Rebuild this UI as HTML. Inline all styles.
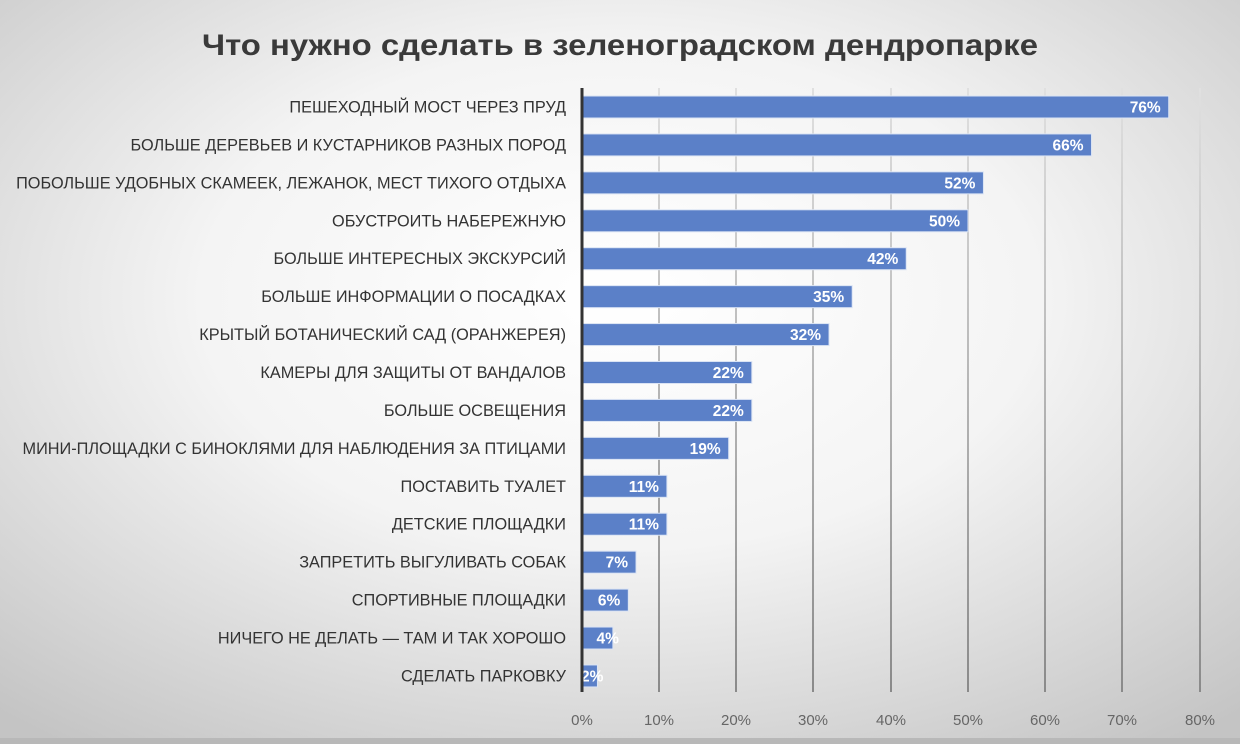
<!DOCTYPE html>
<html><head><meta charset="utf-8"><style>
html,body{margin:0;padding:0;}
body{width:1240px;height:744px;overflow:hidden;}
</style></head><body>
<svg width="1240" height="744" xmlns="http://www.w3.org/2000/svg" font-family="'Liberation Sans', sans-serif">
<defs>
<radialGradient id="bg" cx="0.5" cy="0.4" r="0.75">
<stop offset="0" stop-color="#ffffff"/>
<stop offset="0.45" stop-color="#f4f4f4"/>
<stop offset="1" stop-color="#c4c4c4"/>
</radialGradient>
<linearGradient id="gl" x1="0" y1="88" x2="0" y2="692" gradientUnits="userSpaceOnUse">
<stop offset="0" stop-color="#e0e0e0"/>
<stop offset="1" stop-color="#8a8a8a"/>
</linearGradient>
</defs>
<rect width="1240" height="744" fill="url(#bg)"/>
<rect x="0" y="738" width="1240" height="6" fill="#b8b8b8"/>
<text x="620" y="55" text-anchor="middle" font-size="30" font-weight="bold" fill="#3a3a3a" textLength="836" lengthAdjust="spacingAndGlyphs">Что нужно сделать в зеленоградском дендропарке</text>
<g stroke="url(#gl)" stroke-width="2">
<line x1="659" y1="88" x2="659" y2="692"/>
<line x1="736" y1="88" x2="736" y2="692"/>
<line x1="813" y1="88" x2="813" y2="692"/>
<line x1="891" y1="88" x2="891" y2="692"/>
<line x1="968" y1="88" x2="968" y2="692"/>
<line x1="1045" y1="88" x2="1045" y2="692"/>
<line x1="1122" y1="88" x2="1122" y2="692"/>
<line x1="1200" y1="88" x2="1200" y2="692"/>
</g>
<g font-size="15" fill="#666" text-anchor="middle">
<text x="582" y="725">0%</text><text x="659" y="725">10%</text><text x="736" y="725">20%</text><text x="813" y="725">30%</text><text x="891" y="725">40%</text><text x="968" y="725">50%</text><text x="1045" y="725">60%</text><text x="1122" y="725">70%</text><text x="1200" y="725">80%</text>
</g>
<g id="bars"></g>
<line x1="582" y1="88" x2="582" y2="692" stroke="#333" stroke-width="3"/>
</svg>
<script>
var d=[["ПЕШЕХОДНЫЙ МОСТ ЧЕРЕЗ ПРУД",76],["БОЛЬШЕ ДЕРЕВЬЕВ И КУСТАРНИКОВ РАЗНЫХ ПОРОД",66],["ПОБОЛЬШЕ УДОБНЫХ СКАМЕЕК, ЛЕЖАНОК, МЕСТ ТИХОГО ОТДЫХА",52],["ОБУСТРОИТЬ НАБЕРЕЖНУЮ",50],["БОЛЬШЕ ИНТЕРЕСНЫХ ЭКСКУРСИЙ",42],["БОЛЬШЕ ИНФОРМАЦИИ О ПОСАДКАХ",35],["КРЫТЫЙ БОТАНИЧЕСКИЙ САД (ОРАНЖЕРЕЯ)",32],["КАМЕРЫ ДЛЯ ЗАЩИТЫ ОТ ВАНДАЛОВ",22],["БОЛЬШЕ ОСВЕЩЕНИЯ",22],["МИНИ-ПЛОЩАДКИ С БИНОКЛЯМИ ДЛЯ НАБЛЮДЕНИЯ ЗА ПТИЦАМИ",19],["ПОСТАВИТЬ ТУАЛЕТ",11],["ДЕТСКИЕ ПЛОЩАДКИ",11],["ЗАПРЕТИТЬ ВЫГУЛИВАТЬ СОБАК",7],["СПОРТИВНЫЕ ПЛОЩАДКИ",6],["НИЧЕГО НЕ ДЕЛАТЬ — ТАМ И ТАК ХОРОШО",4],["СДЕЛАТЬ ПАРКОВКУ",2]];
var s="";
d.forEach(function(r,i){
var cy=107+i*37.93, w=r[1]*7.72;
s+='<rect x="582" y="'+(cy-11)+'" width="'+w+'" height="22" fill="#5b80c8" stroke="#dbe4f4" stroke-width="1"/>';
s+='<text x="566" y="'+(cy+5.5)+'" text-anchor="end" font-size="16.3" fill="#333">'+r[0]+'</text>';
var tx=582+w-8; if(r[1]<5) tx=582+w+6;
s+='<text x="'+tx+'" y="'+(cy+5.5)+'" text-anchor="end" font-size="15.5" font-weight="bold" fill="#fff">'+r[1]+'%</text>';
});
document.getElementById("bars").innerHTML=s;
</script>
</body></html>
